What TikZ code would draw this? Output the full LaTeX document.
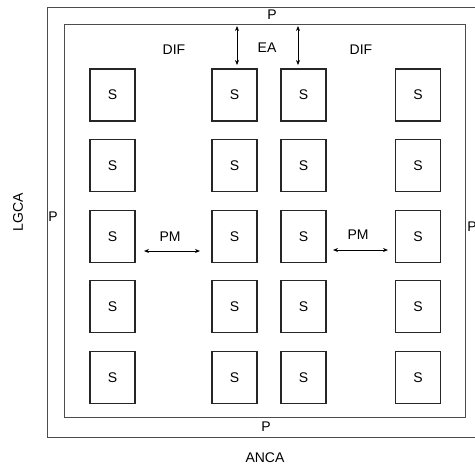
\documentclass[tikz,border=0pt]{standalone}
\usepackage{fontspec}
\setmainfont{Liberation Sans}
\usetikzlibrary{arrows.meta}
\begin{document}
\begin{tikzpicture}[x=1pt,y=-1pt,
  sbox/.style={draw=black!85, line width=1.1pt, minimum width=45pt, minimum height=52pt, inner sep=0pt, font=\fontsize{14}{14}\selectfont},
  frame/.style={draw=black!70, line width=0.8pt},
  lbl/.style={font=\fontsize{14}{14}\selectfont, inner sep=0pt},
  dbl/.style={{Stealth[length=5pt,width=4pt]}-{Stealth[length=5pt,width=4pt]}, line width=0.8pt}]
\useasboundingbox (0,0) rectangle (475,467);
\clip (0,0) rectangle (475,467);
% frames
\draw[frame] (47,7) rectangle (490,437);
\draw[frame] (64,24) rectangle (465,417);
% boxes
\foreach \r/\y in {1/95,2/165.5,3/236.5,4/306.5,5/377.5}{
  \foreach \c/\x in {1/112.5,2/234.5,3/303.5,4/418}{
    \node[sbox] (s\r\c) at (\x,\y) {S};
  }
}
% labels
\node[lbl] (ptop) at (272,15) {P};
\node[lbl] (pbot) at (266,427) {P};
\node[lbl] (pleft) at (53,217) {P};
\node[lbl] (pright) at (472,227) {P};
\node[lbl] (dif1) at (174,50) {DIF};
\node[lbl] (dif2) at (361,50) {DIF};
\node[lbl] (ea) at (267,48) {EA};
\node[lbl] (pm1) at (170,237) {PM};
\node[lbl] (pm2) at (358,235) {PM};
\node[lbl] (anca) at (265,458) {ANCA};
\node[lbl, rotate=90] (lgca) at (18,212) {LGCA};
% arrows
\coordinate (ea1t) at (237,26);
\coordinate (ea1b) at (237,65);
\coordinate (ea2t) at (298,26);
\coordinate (ea2b) at (298,65);
\draw[dbl] (ea1t) -- (ea1b);
\draw[dbl] (ea2t) -- (ea2b);
\coordinate (pm1l) at (144,251);
\coordinate (pm1r) at (200,251);
\coordinate (pm2l) at (333,250);
\coordinate (pm2r) at (388,250);
\draw[dbl] (pm1l) -- (pm1r);
\draw[dbl] (pm2l) -- (pm2r);
\end{tikzpicture}
\end{document}
